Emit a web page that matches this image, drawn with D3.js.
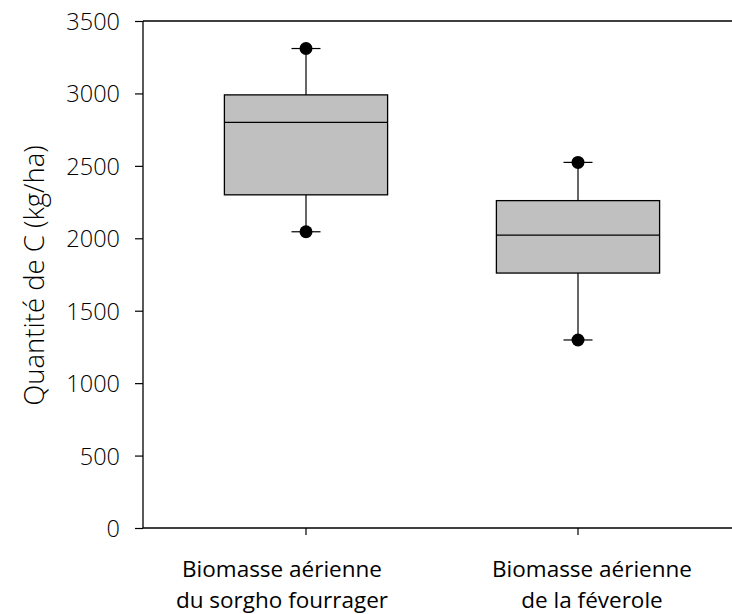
<!DOCTYPE html>
<html>
<head>
<meta charset="utf-8">
<script src="https://cdn.jsdelivr.net/npm/d3@7/dist/d3.min.js"></script>
<style>
  html, body { margin: 0; padding: 0; background: #fff; }
  svg { display: block; }
  text { font-family: "Open Sans", "Noto Sans", sans-serif; fill: #000; }
</style>
</head>
<body>
<svg id="chart" width="732" height="614"></svg>
<script>
// Carbon stock in above-ground biomass, summarised per crop
const categories = ["Biomasse aérienne du sorgho fourrager", "Biomasse aérienne de la féverole"];
const labelLines = [["Biomasse aérienne", "du sorgho fourrager"], ["Biomasse aérienne", "de la féverole"]];
const whiskerLow = [2045, 1298];
const q1 = [2300, 1760];
const median = [2800, 2022];
const q3 = [2990, 2260];
const whiskerHigh = [3310, 2524];
const yTicks = [0, 500, 1000, 1500, 2000, 2500, 3000, 3500];

const svg = d3.select("#chart");
const plotLeft = 143, plotRight = 732, plotTop = 21, plotBottom = 528;

const y = d3.scaleLinear().domain([0, 3500]).range([plotBottom, plotTop]);
const x = d3.scaleBand().domain(categories).range([170, 714]).padding(0);
const boxW = x.bandwidth() * 0.6;
const capW = 29;

// Axes
const yAxis = svg.append("g")
  .attr("transform", `translate(${plotLeft},0)`)
  .call(d3.axisLeft(y).tickValues(yTicks).tickSize(8).tickPadding(15).tickFormat(d3.format("d")));
yAxis.select(".domain").remove();
yAxis.selectAll(".tick line").attr("stroke", "#000").attr("stroke-width", 1.2);
yAxis.selectAll(".tick text")
  .attr("dy", "0.36em")
  .style("font-size", "23.5px").style("font-weight", 300);

svg.append("line").attr("x1", plotLeft).attr("x2", plotLeft).attr("y1", plotTop).attr("y2", plotBottom)
  .attr("stroke", "#000").attr("stroke-width", 1.3);
svg.append("line").attr("x1", plotLeft).attr("x2", plotRight).attr("y1", plotTop).attr("y2", plotTop)
  .attr("stroke", "#000").attr("stroke-width", 1.3);
svg.append("line").attr("x1", plotLeft).attr("x2", plotRight).attr("y1", plotBottom).attr("y2", plotBottom)
  .attr("stroke", "#000").attr("stroke-width", 1.3);

const xAxis = svg.append("g")
  .attr("transform", `translate(0,${plotBottom})`)
  .call(d3.axisBottom(x).tickSize(7).tickFormat(""));
xAxis.select(".domain").remove();
xAxis.selectAll(".tick line").attr("stroke", "#000").attr("stroke-width", 1.2);

// Category labels, one text per line
const labelShift = [-24, 14];
categories.forEach((c, i) => {
  const lx = x(c) + x.bandwidth() / 2 + labelShift[i];
  labelLines[i].forEach((line, j) => {
    svg.append("text")
      .attr("x", lx)
      .attr("y", 577 + j * 31)
      .attr("text-anchor", "middle")
      .style("font-size", "22.5px")
      .text(line);
  });
});

// Y title
svg.append("text")
  .attr("transform", `translate(44,${(plotTop + plotBottom) / 2 + 1}) rotate(-90)`)
  .attr("text-anchor", "middle")
  .style("font-size", "27.5px")
  .style("font-weight", 300)
  .text("Quantité de C (kg/ha)");

// Box plots
const g = svg.append("g");
categories.forEach((c, i) => {
  const cx = x(c) + x.bandwidth() / 2;
  // whiskers
  g.append("line").attr("x1", cx).attr("x2", cx).attr("y1", y(q3[i])).attr("y2", y(whiskerHigh[i]))
    .attr("stroke", "#000").attr("stroke-width", 1.2);
  g.append("line").attr("x1", cx).attr("x2", cx).attr("y1", y(q1[i])).attr("y2", y(whiskerLow[i]))
    .attr("stroke", "#000").attr("stroke-width", 1.2);
  [whiskerHigh[i], whiskerLow[i]].forEach(v => {
    g.append("line").attr("x1", cx - capW / 2).attr("x2", cx + capW / 2).attr("y1", y(v)).attr("y2", y(v))
      .attr("stroke", "#000").attr("stroke-width", 1.2);
  });
  // box
  g.append("rect")
    .attr("x", cx - boxW / 2).attr("width", boxW)
    .attr("y", y(q3[i])).attr("height", y(q1[i]) - y(q3[i]))
    .attr("fill", "#c0c0c0").attr("stroke", "#000").attr("stroke-width", 1.3);
  g.append("line").attr("x1", cx - boxW / 2).attr("x2", cx + boxW / 2)
    .attr("y1", y(median[i])).attr("y2", y(median[i]))
    .attr("stroke", "#000").attr("stroke-width", 1.3);
  // extreme points
  [whiskerHigh[i], whiskerLow[i]].forEach(v => {
    g.append("circle").attr("cx", cx).attr("cy", y(v)).attr("r", 6.5).attr("fill", "#000");
  });
});
</script>
</body>
</html>
